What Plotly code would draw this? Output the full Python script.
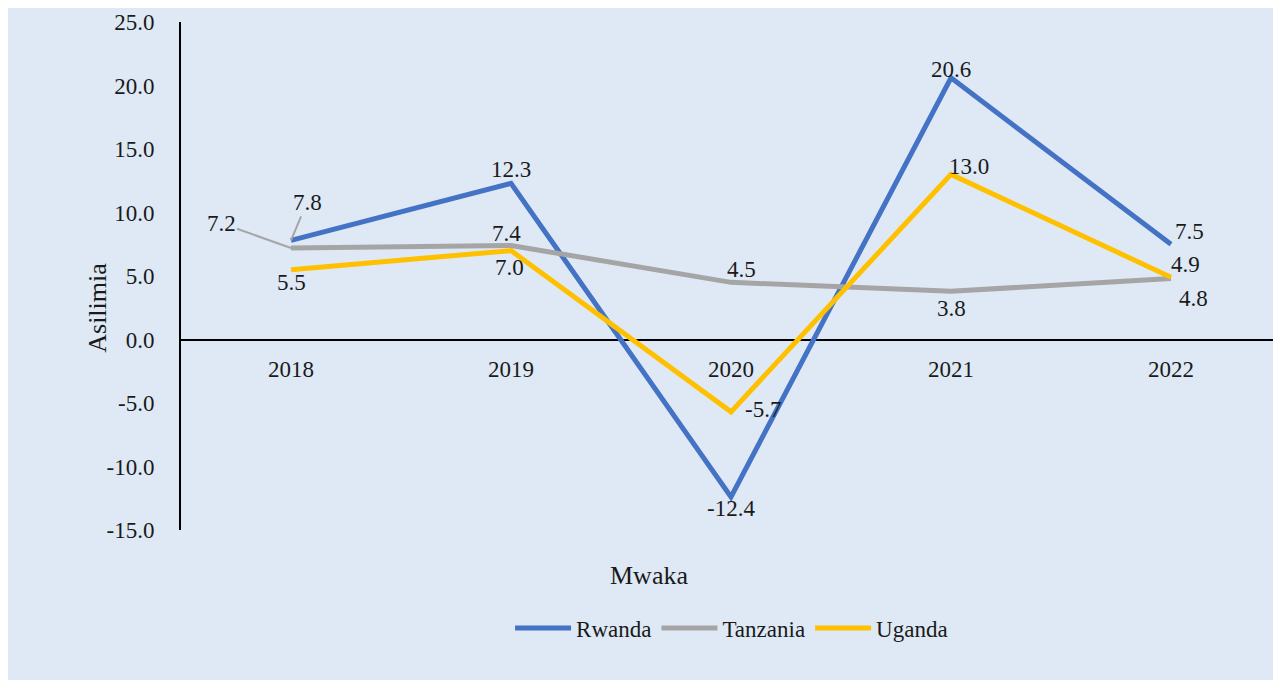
import plotly.graph_objects as go

years = ["2018", "2019", "2020", "2021", "2022"]
rwanda = [7.8, 12.3, -12.4, 20.6, 7.5]
tanzania = [7.2, 7.4, 4.5, 3.8, 4.8]
uganda = [5.5, 7.0, -5.7, 13.0, 4.9]
y_ticks = [25, 20, 15, 10, 5, 0, -5, -10, -15]
y_tick_labels = ["25.0", "20.0", "15.0", "10.0", "5.0", "0.0", "-5.0", "-10.0", "-15.0"]

FONT = "Liberation Serif"
TXT = "#1a1a1a"
BG = "#DEE9F5"
FS = 23

series = [
    ("Rwanda", rwanda, "#4472C4"),
    ("Tanzania", tanzania, "#A5A5A5"),
    ("Uganda", uganda, "#FFC000"),
]

fig = go.Figure()
for name, vals, col in series:
    fig.add_trace(go.Scatter(x=years, y=vals, mode="lines", name=name,
                             line=dict(color=col, width=5)))

# label offsets (xshift, yshift) per series/point
offsets = {
    "Rwanda": [None, (0, 14), (0, -12), (0, 8), (18, 13)],
    "Tanzania": [None, (-5, 12), (10, 13), (0, -17), (22, -20)],
    "Uganda": [(0, -13), (-2, -17), (32, 2), (18, 8), (14, 13)],
}
ann = []
for name, vals, col in series:
    for i, v in enumerate(vals):
        off = offsets[name][i]
        if off is None:
            continue
        ann.append(dict(x=i, y=v, xref="x", yref="y", text=f"{v:.1f}", showarrow=False,
                        xshift=off[0], yshift=off[1],
                        font=dict(family=FONT, size=FS, color=TXT)))
# leader-line labels for 2018
ann.append(dict(x=0, y=rwanda[0], xref="x", yref="y", text=f"{rwanda[0]:.1f}",
                showarrow=True, arrowhead=0, arrowwidth=2, arrowcolor="#A5A5A5",
                ax=16, ay=-38, font=dict(family=FONT, size=FS, color=TXT)))
ann.append(dict(x=0, y=tanzania[0], xref="x", yref="y", text=f"{tanzania[0]:.1f}",
                showarrow=True, arrowhead=0, arrowwidth=2, arrowcolor="#A5A5A5",
                ax=-70, ay=-25, font=dict(family=FONT, size=FS, color=TXT)))
# category labels along the zero line
for i, yr in enumerate(years):
    ann.append(dict(x=i, y=0, xref="x", yref="y", text=yr, showarrow=False, yshift=-30,
                    font=dict(family=FONT, size=FS, color=TXT)))
# axis titles
ann.append(dict(xref="paper", yref="paper", x=-0.0766, y=0.437, text="Asilimia",
                xanchor="center", yanchor="middle",
                showarrow=False, textangle=-90,
                font=dict(family=FONT, size=26, color=TXT)))
ann.append(dict(xref="paper", yref="paper", x=0.4257, y=-0.0886, text="Mwaka",
                xanchor="center", yanchor="middle",
                showarrow=False, font=dict(family=FONT, size=26, color=TXT)))

fig.update_layout(
    width=1273, height=672,
    margin=dict(l=173, r=0, t=14, b=150),
    paper_bgcolor=BG, plot_bgcolor=BG,
    showlegend=True,
    legend=dict(orientation="h", x=0.5005, xanchor="center", y=-0.193, yanchor="middle",
                font=dict(family=FONT, size=FS, color=TXT), bgcolor="rgba(0,0,0,0)",
                itemwidth=56),
    annotations=ann,
    xaxis=dict(type="category", range=[-0.5, 4.5], showticklabels=False,
               showgrid=False, zeroline=False, showline=False),
    yaxis=dict(range=[-15, 25], tickvals=y_ticks, ticktext=y_tick_labels,
               showgrid=False, zeroline=True, zerolinecolor="black", zerolinewidth=2,
               showline=True, linecolor="black", linewidth=2,
               ticks="", ticklabelstandoff=20,
               tickfont=dict(family=FONT, size=FS, color=TXT)),
)

fig.write_html("out.html")
